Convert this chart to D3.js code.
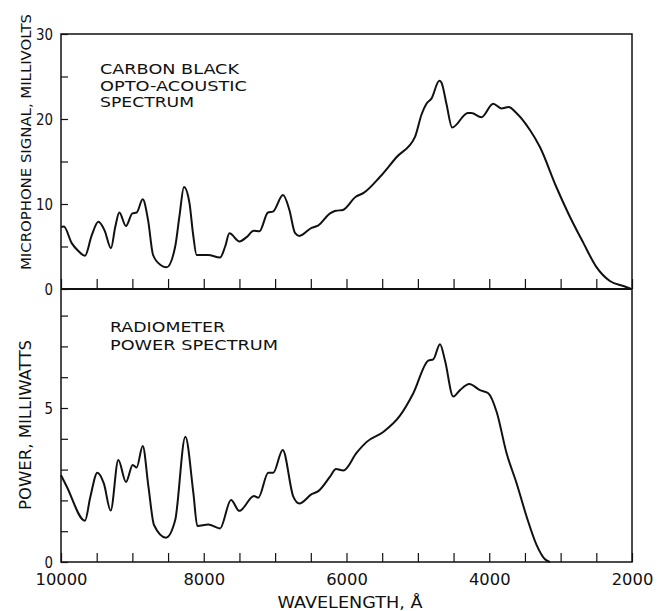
<!DOCTYPE html>
<html>
<head>
<meta charset="utf-8">
<script src="https://cdn.jsdelivr.net/npm/d3@7"></script>
<style>
  body { margin: 0; background: #fff; }
  svg text { font-family: "DejaVu Sans", sans-serif; fill: #111; }
</style>
</head>
<body>
<div id="chart"></div>
<script>
// wavelength (angstrom) and microphone signal (mV)
var micWave = [10000, 9960, 9850, 9760, 9664, 9570, 9477, 9390, 9300, 9240, 9183, 9090, 9000, 8940, 8855, 8780, 8710, 8600, 8520, 8400, 8340, 8277, 8200, 8150, 8100, 7940, 7772, 7700, 7640, 7500, 7400, 7300, 7220, 7100, 7030, 6890, 6800, 6722, 6660, 6490, 6400, 6230, 6150, 6050, 5870, 5760, 5530, 5300, 5040, 4950, 4880, 4810, 4700, 4670, 4600, 4520, 4300, 4250, 4110, 3945, 3830, 3730, 3620, 3430, 3290, 3060, 2870, 2680, 2500, 2310, 2120, 2020];
var micSignal = [7.3, 7.35, 5.4, 4.5, 3.9, 6.3, 7.9, 6.9, 4.8, 7.3, 9.0, 7.4, 8.9, 9.0, 10.55, 8.1, 4.0, 2.8, 2.55, 5.0, 8.6, 12.0, 10.1, 6.5, 4.0, 4.0, 3.7, 5.0, 6.55, 5.6, 6.1, 6.85, 6.8, 9.0, 9.1, 11.05, 9.3, 6.6, 6.25, 7.2, 7.45, 8.9, 9.2, 9.3, 10.85, 11.3, 13.2, 15.5, 17.9, 20.5, 21.8, 22.4, 24.5, 24.3, 21.8, 19.0, 20.7, 20.7, 20.2, 21.8, 21.25, 21.4, 20.7, 18.7, 16.7, 12.0, 8.5, 5.4, 2.6, 0.94, 0.35, 0.05];

// wavelength (angstrom) and radiometer power (mW)
var powWave = [10000, 9920, 9664, 9590, 9490, 9400, 9304, 9197, 9090, 8995, 8940, 8855, 8775, 8697, 8529, 8400, 8258, 8145, 8090, 7936, 7772, 7618, 7502, 7296, 7236, 7096, 7026, 6894, 6745, 6661, 6488, 6395, 6231, 6147, 6045, 5857, 5717, 5485, 5251, 5064, 4854, 4784, 4690, 4620, 4504, 4410, 4280, 4130, 4014, 3897, 3757, 3616, 3476, 3336, 3219, 3150];
var powValue = [2.82, 2.45, 1.34, 2.1, 2.9, 2.55, 1.67, 3.31, 2.6, 3.15, 3.07, 3.77, 2.45, 1.2, 0.79, 1.36, 4.07, 2.23, 1.17, 1.22, 1.09, 2.01, 1.66, 2.14, 2.09, 2.9, 2.9, 3.64, 2.12, 1.9, 2.2, 2.3, 2.77, 3.02, 2.97, 3.55, 3.9, 4.22, 4.75, 5.48, 6.54, 6.58, 7.07, 6.54, 5.37, 5.58, 5.78, 5.58, 5.48, 4.88, 3.53, 2.55, 1.47, 0.55, 0.09, 0];

var xLabels = [10000, 8000, 6000, 4000, 2000];
var micLabels = [0, 10, 20, 30];
var powLabels = [0, 5];

var svgWidth = 658, svgHeight = 611;
var left = 61, right = 632;
var topY = 34, midY = 289, botY = 562;

var svg = d3.select("#chart").append("svg")
    .attr("width", svgWidth)
    .attr("height", svgHeight);

var xScale = d3.scaleLinear().domain([10000, 2000]).range([left, right]);
var yMic = d3.scaleLinear().domain([0, 30]).range([midY, topY]);
var yPow = d3.scaleLinear().domain([0, (botY - midY) / 30.8]).range([botY, midY]);

var xTicks = d3.range(2000, 10001, 500);

// top panel x ticks (no labels)
svg.append("g")
    .attr("transform", `translate(0, ${midY})`)
    .call(d3.axisBottom(xScale).tickValues(xTicks).tickSize(-10).tickFormat(""))
    .call(g => g.select(".domain").remove());

// bottom x axis
var xAx = svg.append("g")
    .attr("transform", `translate(0, ${botY})`)
    .call(d3.axisBottom(xScale).tickValues(xTicks).tickSize(-9).tickPadding(12)
        .tickFormat(d => xLabels.indexOf(d) >= 0 ? d : ""));
xAx.select(".domain").remove();
xAx.selectAll(".tick text")
    .attr("font-size", 16)
    .filter(function() { return this.textContent != ""; })
    .attr("textLength", function() { return this.textContent.length * 10.4; })
    .attr("lengthAdjust", "spacingAndGlyphs");

// y axes, ticks inward
var yAx1 = svg.append("g")
    .attr("transform", `translate(${left}, 0)`)
    .call(d3.axisLeft(yMic).tickValues(d3.range(0, 31, 5)).tickSize(-7).tickPadding(8)
        .tickFormat(d => micLabels.indexOf(d) >= 0 ? d : ""));
yAx1.select(".domain").remove();

var yAx2 = svg.append("g")
    .attr("transform", `translate(${left}, 0)`)
    .call(d3.axisLeft(yPow).tickValues(d3.range(0, 9, 1)).tickSize(-7).tickPadding(8)
        .tickFormat(d => powLabels.indexOf(d) >= 0 ? d : ""));
yAx2.select(".domain").remove();

svg.selectAll(".tick line").attr("stroke", "#111").attr("stroke-width", 1.2);
[yAx1, yAx2].forEach(function(ax) {
    ax.selectAll(".tick text")
        .attr("font-size", 16)
        .filter(function() { return this.textContent != ""; })
        .attr("textLength", function() { return this.textContent.length * 8.5; })
        .attr("lengthAdjust", "spacingAndGlyphs");
});
svg.selectAll(".tick text").attr("fill", "#111");

// frames
svg.append("rect")
    .attr("x", left).attr("y", topY)
    .attr("width", right - left).attr("height", botY - topY)
    .attr("fill", "none").attr("stroke", "#111").attr("stroke-width", 1.5);
svg.append("line")
    .attr("x1", left).attr("x2", right).attr("y1", midY).attr("y2", midY)
    .attr("stroke", "#111").attr("stroke-width", 1.8);

// curves
var micData = micWave.map((w, i) => ({ w: w, v: micSignal[i] }));
var powData = powWave.map((w, i) => ({ w: w, v: powValue[i] }));

var micLine = d3.line()
    .x(d => xScale(d.w))
    .y(d => yMic(d.v))
    .curve(d3.curveMonotoneX);
var powLine = d3.line()
    .x(d => xScale(d.w))
    .y(d => yPow(d.v))
    .curve(d3.curveMonotoneX);

svg.append("path").datum(micData)
    .attr("d", micLine)
    .attr("fill", "none").attr("stroke", "#111").attr("stroke-width", 2);
svg.append("path").datum(powData)
    .attr("d", powLine)
    .attr("fill", "none").attr("stroke", "#111").attr("stroke-width", 2);

// panel titles (text, width in px)
var topTitle = [["CARBON BLACK", 139], ["OPTO-ACOUSTIC", 147], ["SPECTRUM", 94]];
svg.selectAll(null).data(topTitle).enter().append("text")
    .attr("x", 100)
    .attr("y", (d, i) => 74 + i * 16.7)
    .attr("font-size", 14.5)
    .attr("textLength", d => d[1])
    .attr("lengthAdjust", "spacingAndGlyphs")
    .text(d => d[0]);

var botTitle = [["RADIOMETER", 115], ["POWER SPECTRUM", 168]];
svg.selectAll(null).data(botTitle).enter().append("text")
    .attr("x", 110)
    .attr("y", (d, i) => 332 + i * 17.5)
    .attr("font-size", 14.5)
    .attr("textLength", d => d[1])
    .attr("lengthAdjust", "spacingAndGlyphs")
    .text(d => d[0]);

// axis titles
svg.append("text")
    .attr("transform", "rotate(-90)")
    .attr("x", -142)
    .attr("y", 31)
    .attr("text-anchor", "middle")
    .attr("font-size", 14.5)
    .attr("textLength", 256)
    .attr("lengthAdjust", "spacingAndGlyphs")
    .text("MICROPHONE SIGNAL, MILLIVOLTS");

svg.append("text")
    .attr("transform", "rotate(-90)")
    .attr("x", -425)
    .attr("y", 31)
    .attr("text-anchor", "middle")
    .attr("font-size", 16)
    .attr("textLength", 170)
    .attr("lengthAdjust", "spacingAndGlyphs")
    .text("POWER, MILLIWATTS");

svg.append("text")
    .attr("x", 350)
    .attr("y", 608)
    .attr("text-anchor", "middle")
    .attr("font-size", 15.5)
    .attr("textLength", 145)
    .attr("lengthAdjust", "spacingAndGlyphs")
    .text("WAVELENGTH, Å");
</script>
</body>
</html>
